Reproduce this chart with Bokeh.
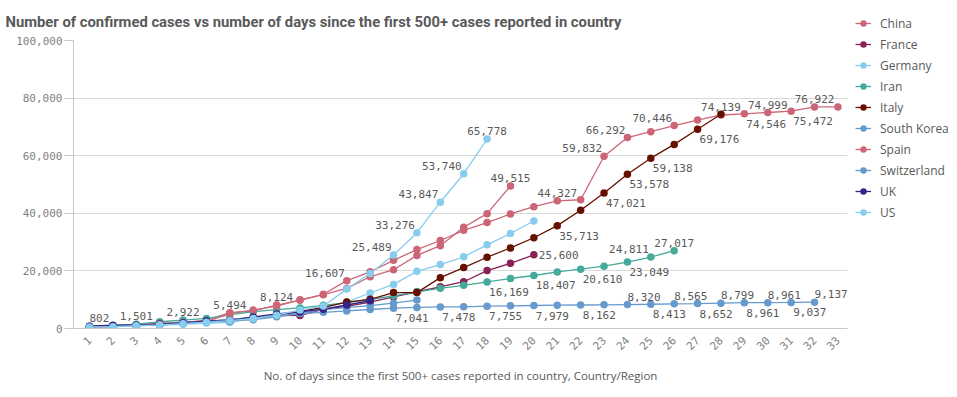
import math
from bokeh.plotting import figure
from bokeh.layouts import row, column
from bokeh.models import (ColumnDataSource, FixedTicker, NumeralTickFormatter, Range1d,
                          Legend, LegendItem)
from bokeh.core.properties import value
from bokeh.embed import file_html
from bokeh.resources import INLINE

title_text = "Number of confirmed cases vs number of days since the first 500+ cases reported in country"
x_title = "No. of days since the first 500+ cases reported in country, Country/Region"

countries = ["China", "France", "Germany", "Iran", "Italy", "South Korea",
             "Spain", "Switzerland", "UK", "US"]

china = [547, 639, 916, 1399, 2062, 2863, 5494, 6070, 8124, 9783, 11871, 16607, 19693,
         23680, 27409, 30553, 34075, 36778, 39790, 42306, 44327, 44699, 59832, 66292,
         68347, 70446, 72364, 74139, 74546, 74999, 75472, 76922, 76938]
france = [656, 959, 1136, 1219, 1794, 2293, 2293, 3681, 4496, 4532, 6683, 7715, 9124,
          10970, 12758, 14463, 16243, 20123, 22622, 25600]
germany = [670, 799, 1040, 1176, 1457, 1908, 2078, 3675, 4585, 5795, 7272, 9257, 12327,
           15320, 19848, 22213, 24873, 29056, 32986, 37323]
iran = [593, 978, 1501, 2336, 2922, 3513, 4747, 5823, 6566, 7161, 8042, 9000, 10075,
        11364, 12729, 13938, 14991, 16169, 17361, 18407, 19644, 20610, 21638, 23049,
        24811, 27017]
italy = [655, 888, 1128, 1694, 2036, 2502, 3089, 3858, 4636, 5883, 7375, 9172, 10149,
         12462, 12462, 17660, 21157, 24747, 27980, 31506, 35713, 41035, 47021, 53578,
         59138, 63927, 69176, 74386]
south_korea = [602, 833, 977, 1261, 1766, 2337, 3150, 3736, 4335, 5186, 5621, 6088, 6593,
               7041, 7314, 7478, 7513, 7755, 7869, 7979, 8086, 8162, 8236, 8320, 8413,
               8565, 8652, 8799, 8961, 8961, 9037, 9137]
spain = [500, 673, 1073, 1695, 2277, 2277, 5232, 6391, 7798, 9942, 11748, 13910, 17963,
         20410, 25374, 28768, 35136, 39885, 49515]
switzerland = [652, 652, 1139, 1359, 2200, 2200, 2700, 3028, 4075, 5294, 6575, 7245,
               7948, 8795, 9877]
uk = [802, 1144, 1145, 1551, 1960, 2642, 2716, 4014, 5067, 5745, 6726, 8164, 9640]
us = [537, 605, 959, 1281, 1663, 2179, 2727, 3499, 4632, 6421, 7786, 13680, 19101,
      25489, 33276, 43847, 53740, 65778]

series = {"China": china, "France": france, "Germany": germany, "Iran": iran,
          "Italy": italy, "South Korea": south_korea, "Spain": spain,
          "Switzerland": switzerland, "UK": uk, "US": us}

colors = {"China": "#cc6677", "France": "#882255", "Germany": "#88ccee", "Iran": "#44aa99",
          "Italy": "#661100", "South Korea": "#6699cc", "Spain": "#cc6677",
          "Switzerland": "#6699cc", "UK": "#332288", "US": "#88ccee"}

x_ticks = list(range(1, 34))
y_ticks = [0, 20000, 40000, 60000, 80000, 100000]
grid_ticks = [20000, 40000, 60000, 80000]

# data labels: (country, day, placement)
label_specs = [
    ("UK", 1, "above_l"), ("Iran", 3, "above_c"), ("Iran", 5, "above_c"),
    ("China", 7, "above_c"), ("China", 9, "above_c"), ("China", 12, "above_r"),
    ("US", 14, "above_r"), ("US", 15, "above_r"), ("US", 16, "above_r"),
    ("US", 17, "above_r"), ("US", 18, "above_c"), ("Spain", 19, "above_c"),
    ("China", 21, "above_c"), ("China", 23, "above_r"), ("China", 24, "above_r"),
    ("China", 26, "above_r"), ("China", 28, "above_c"), ("China", 29, "below_l"),
    ("China", 30, "above_c"), ("China", 31, "below_l"), ("China", 32, "above_c"),
    ("Italy", 21, "below_l"), ("Italy", 23, "below_l"), ("Italy", 24, "below_l"),
    ("Italy", 25, "below_l"), ("Italy", 27, "below_l"),
    ("France", 20, "right"),
    ("Iran", 18, "below_l"), ("Iran", 20, "below_l"), ("Iran", 22, "below_l"),
    ("Iran", 24, "below_l"), ("Iran", 25, "above_r"), ("Iran", 26, "above_c"),
    ("South Korea", 14, "below_l"), ("South Korea", 16, "below_l"),
    ("South Korea", 18, "below_l"), ("South Korea", 20, "below_l"),
    ("South Korea", 22, "below_l"), ("South Korea", 24, "above_l"),
    ("South Korea", 25, "below_l"), ("South Korea", 26, "above_l"),
    ("South Korea", 27, "below_l"), ("South Korea", 28, "above_l"),
    ("South Korea", 29, "below_l"), ("South Korea", 30, "above_l"),
    ("South Korea", 31, "below_l"), ("South Korea", 32, "above_l"),
]

placements = {
    "above_c": dict(align="center", baseline="bottom", dx=0, dy=-4),
    "above_r": dict(align="right", baseline="bottom", dx=-2, dy=-4),
    "above_l": dict(align="left", baseline="bottom", dx=0, dy=-4),
    "below_l": dict(align="left", baseline="top", dx=2, dy=6),
    "right": dict(align="left", baseline="middle", dx=5, dy=0),
}

TXT = "#595959"
AX = "#7f7f7f"
MONO = "DejaVu Sans Mono"

fig = figure(width=850, height=397, output_backend="svg", toolbar_location=None,
             x_range=Range1d(0.316, 33.41), y_range=Range1d(0, 100000),
             min_border_left=73, min_border_right=3, min_border_top=40,
             min_border_bottom=69)
fig.outline_line_color = None
fig.background_fill_color = "white"
fig.border_fill_color = "white"

fig.title.text = title_text
fig.title.text_font = "Roboto"
fig.title.text_font_size = "14.8px"
fig.title.text_font_style = "bold"
fig.title.text_color = TXT
fig.title.align = "left"
fig.title.offset = -68
fig.title.standoff = 20

# axes
fig.yaxis.ticker = FixedTicker(ticks=y_ticks)
fig.yaxis.formatter = NumeralTickFormatter(format="0,0")
fig.yaxis.axis_line_color = "#c8c8c8"
fig.yaxis.major_tick_line_color = "#c8c8c8"
fig.yaxis.major_tick_out = 9
fig.yaxis.major_tick_in = 0
fig.yaxis.minor_tick_line_color = None
fig.yaxis.major_label_text_font = MONO
fig.yaxis.major_label_text_font_size = "11px"
fig.yaxis.major_label_text_color = AX
fig.yaxis.major_label_standoff = 2

fig.xaxis.ticker = FixedTicker(ticks=x_ticks)
fig.xaxis.axis_line_color = "#c8c8c8"
fig.xaxis.major_tick_line_color = None
fig.xaxis.minor_tick_line_color = None
fig.xaxis.major_label_orientation = math.pi / 4
fig.xaxis.major_label_text_font = MONO
fig.xaxis.major_label_text_font_size = "11px"
fig.xaxis.major_label_text_color = AX
fig.xaxis.major_label_standoff = 4
fig.xaxis.axis_label = x_title
fig.xaxis.axis_label_text_font = "Open Sans"
fig.xaxis.axis_label_text_font_size = "11.5px"
fig.xaxis.axis_label_text_font_style = "normal"
fig.xaxis.axis_label_text_color = TXT
fig.xaxis.axis_label_standoff = 11

fig.xgrid.grid_line_color = None
fig.ygrid.ticker = FixedTicker(ticks=grid_ticks)
fig.ygrid.grid_line_color = "#d9d9d9"

sources = {}
for c in countries:
    vals = series[c]
    src = ColumnDataSource(dict(x=list(range(1, len(vals) + 1)), y=vals))
    sources[c] = src
    fig.line("x", "y", source=src, line_color=colors[c], line_width=1.3)
    fig.scatter("x", "y", source=src, size=7.5, fill_color=colors[c],
                line_color=colors[c], line_width=0)

# data labels
for key, cfg in placements.items():
    xs, ys, ts = [], [], []
    for c, d, pl in label_specs:
        if pl != key:
            continue
        v = series[c][d - 1]
        xs.append(d)
        ys.append(v)
        ts.append(f"{v:,}")
    if not xs:
        continue
    src = ColumnDataSource(dict(x=xs, y=ys, t=ts))
    fig.text("x", "y", text="t", source=src, text_font=value(MONO), text_font_size="11px",
             text_color=TXT, text_align=cfg["align"], text_baseline=cfg["baseline"],
             x_offset=cfg["dx"], y_offset=cfg["dy"])

# legend panel: a separate figure whose ranges keep the series out of view,
# so only its legend shows
leg = figure(width=107, height=397, output_backend="svg", toolbar_location=None,
             x_axis_location=None, y_axis_location=None,
             x_range=Range1d(-3, -2), y_range=Range1d(-3, -2),
             min_border_left=0, min_border_right=0, min_border_top=0, min_border_bottom=0)
leg.outline_line_color = None
leg.xgrid.grid_line_color = None
leg.ygrid.grid_line_color = None
leg.border_fill_color = "white"
leg.background_fill_color = "white"

items = []
for c in countries:
    lr = leg.line("x", "y", source=sources[c], line_color=colors[c], line_width=1.3)
    sr = leg.scatter("x", "y", source=sources[c], size=7.5, fill_color=colors[c],
                     line_color=colors[c], line_width=0)
    items.append(LegendItem(label=c, renderers=[lr, sr]))

legend = Legend(items=items, location=(5, 176))
legend.label_text_font = "Open Sans"
legend.label_text_font_size = "12px"
legend.label_text_color = TXT
legend.glyph_width = 16
legend.glyph_height = 18
legend.label_height = 18
legend.spacing = 3
legend.padding = 0
legend.margin = 0
legend.label_standoff = 9
legend.border_line_color = None
legend.background_fill_alpha = 0
leg.add_layout(legend)

p = row(fig, column(leg))

open("out.html", "w").write(file_html(p, INLINE))
